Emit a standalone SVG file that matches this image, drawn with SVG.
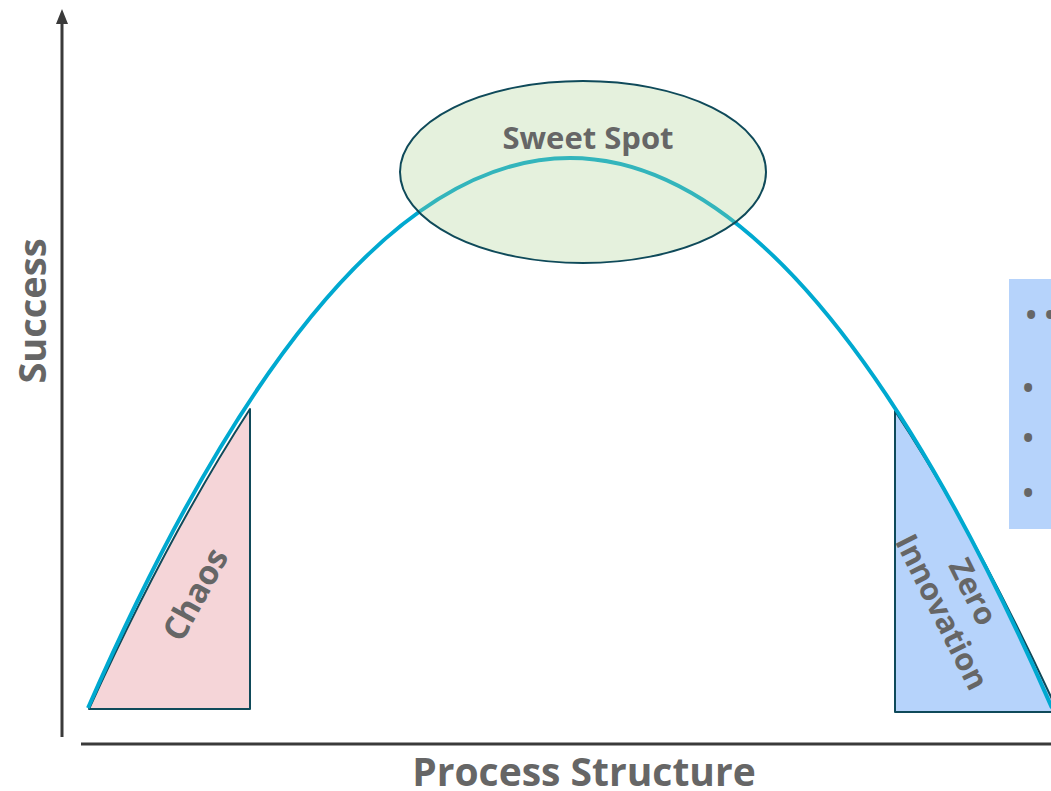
<svg xmlns="http://www.w3.org/2000/svg" width="1051" height="791" viewBox="0 0 1051 791">
  <style>
    .lbl { font-family: "Open Sans", "Liberation Sans", sans-serif; font-weight: 700; fill: #666666; }
    .axis { stroke: #3a3a3a; stroke-width: 3; fill: none; }
    .zone { stroke: #0f4a5a; stroke-width: 2; stroke-linejoin: round; }
    .curve { stroke: #00a9d0; stroke-width: 4; fill: none; }
    .bullet { font-family: "Open Sans", "Liberation Sans", sans-serif; fill: #666666; font-size: 38px; }
  </style>
  <rect width="1051" height="791" fill="#ffffff"/>

  <!-- axes -->
  <g id="connectors">
    <path class="axis" d="M62 737 L62 22"/>
    <path d="M56 24 L62 9 L68 24 Z" fill="#3a3a3a"/>
    <path class="axis" d="M81 744 L1051 744"/>
  </g>

  <!-- chaos zone -->
  <g id="chaos">
    <path class="zone" fill="#f5d5d8" d="M89 709 Q170 532 250 409 L250 709 Z"/>
  </g>

  <!-- zero innovation zone -->
  <g id="zero-innovation">
    <path class="zone" fill="#b6d3fb" d="M895 411 Q975 532 1058 712 L895 712 Z"/>
  </g>

  <!-- success curve -->
  <g id="curve">
    <path class="curve" d="M88 708 Q570 -392 1052 708"/>
  </g>

  <!-- sweet spot -->
  <g id="sweet-spot">
    <ellipse cx="583" cy="172" rx="183" ry="91" fill="#a9d18e" fill-opacity="0.3" stroke="#0f4a5a" stroke-width="2"/>
    <text class="lbl" x="588" y="149" font-size="31" text-anchor="middle">Sweet Spot</text>
  </g>

  <!-- notes panel -->
  <g id="notes">
    <rect x="1009" y="279" width="50" height="250" fill="#b6d3fb"/>
    <text class="bullet" x="1024" y="329" font-size="26">•</text>
    <text class="bullet" x="1043" y="329" font-size="26">•</text>
    <text class="bullet" x="1021" y="402">•</text>
    <text class="bullet" x="1021" y="452">•</text>
    <text class="bullet" x="1021" y="507">•</text>
  </g>

  <!-- labels -->
  <g id="labels">
    <text class="lbl" font-size="33" text-anchor="middle" transform="translate(195 594) rotate(-61.5)" dy="12">Chaos</text>
    <text class="lbl" font-size="31" text-anchor="middle" transform="translate(960 603) rotate(63.5)">
      <tspan x="0" dy="-6">Zero</tspan>
      <tspan x="0" dy="37">Innovation</tspan>
    </text>
    <text class="lbl" font-size="38" text-anchor="middle" transform="translate(46 311) rotate(-90)">Success</text>
    <text class="lbl" font-size="39" text-anchor="middle" x="584" y="786">Process Structure</text>
  </g>
</svg>
